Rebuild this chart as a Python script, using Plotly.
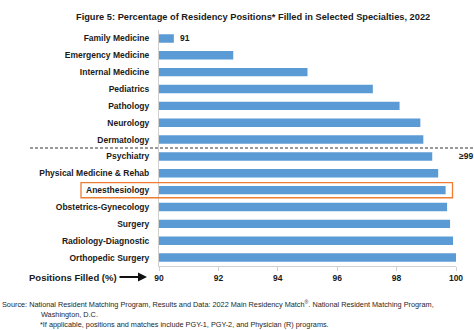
import plotly.graph_objects as go

specialties = [
    "Family Medicine", "Emergency Medicine", "Internal Medicine", "Pediatrics",
    "Pathology", "Neurology", "Dermatology", "Psychiatry",
    "Physical Medicine & Rehab", "Anesthesiology", "Obstetrics-Gynecology",
    "Surgery", "Radiology-Diagnostic", "Orthopedic Surgery",
]
pct_filled = [90.5, 92.5, 95.0, 97.2, 98.1, 98.8, 98.9, 99.2,
              99.4, 99.65, 99.7, 99.8, 99.9, 100.0]
family_label = "91"
x_ticks = [90, 92, 94, 96, 98, 100]

W, H = 474, 330
L, R, T, B = 159, 18, 30, 64
PW, PH = W - L - R, H - T - B


def px_x(px):
    return (px - L) / PW


def px_y(py):
    return (H - B - py) / PH


FONT = "Liberation Sans, Arial, sans-serif"
BLUE = "#5B9BD5"

fig = go.Figure(go.Bar(
    x=pct_filled, y=specialties, orientation="h",
    width=0.5,
    marker=dict(color=BLUE, line=dict(width=0)),
))

fig.update_layout(
    width=W, height=H,
    margin=dict(l=L, r=R, t=T, b=B),
    paper_bgcolor="white", plot_bgcolor="white",
    showlegend=False,
    font=dict(family=FONT, color="#1a1a1a"),
    xaxis=dict(
        range=[90, 100], tickvals=x_ticks, ticktext=[str(v) for v in x_ticks],
        showgrid=False, zeroline=False,
        showline=True, linecolor="#d0d0d0", linewidth=1,
        ticks="outside", ticklen=4, tickcolor="#d0d0d0",
        tickfont=dict(family=FONT, size=8.5, color="#1a1a1a", weight="bold"),
    ),
    yaxis=dict(
        categoryorder="array", categoryarray=specialties,
        autorange=False, range=[13.5, -0.5],
        showgrid=False, zeroline=False,
        showline=True, linecolor="#d0d0d0", linewidth=1,
        ticks="", ticklabelstandoff=7,
        tickfont=dict(family=FONT, size=8.5, color="#1a1a1a", weight="bold"),
    ),
)

# Data label for Family Medicine
fig.add_annotation(text=family_label, xref="x", yref="y",
                   x=pct_filled[0], y=specialties[0], xanchor="left",
                   yanchor="middle", xshift=4, showarrow=False,
                   font=dict(family=FONT, size=8.5, color="#1a1a1a", weight="bold"))

# Title
fig.add_annotation(
    text="Figure 5: Percentage of Residency Positions* Filled in Selected Specialties, 2022",
    xref="paper", yref="paper", x=px_x(253), y=px_y(17),
    xanchor="center", yanchor="middle", showarrow=False,
    font=dict(family=FONT, size=9.25, color="#1a1a1a", weight="bold"),
)

# Dashed separator between groups
fig.add_shape(type="line", xref="paper", yref="y",
              x0=px_x(30), x1=px_x(474), y0=6.5, y1=6.5,
              line=dict(color="#333333", width=1, dash="3px,2px"))

# ≥99 label
fig.add_annotation(text="≥99", xref="paper", yref="y", x=px_x(457), y=7,
                   xanchor="left", yanchor="middle", showarrow=False,
                   font=dict(family=FONT, size=8.5, color="#1a1a1a", weight="bold"))

# Orange box around Anesthesiology
fig.add_shape(type="rect", xref="paper", yref="y",
              x0=px_x(81), x1=px_x(452.5), y0=8.55, y1=9.45,
              line=dict(color="#ED7D31", width=1.3), fillcolor="rgba(0,0,0,0)")

# Axis label with arrow
fig.add_annotation(text="Positions Filled (%)", xref="paper", yref="paper",
                   x=px_x(27), y=px_y(277), xanchor="left", yanchor="middle",
                   showarrow=False,
                   font=dict(family=FONT, size=9.5, color="#1a1a1a", weight="bold"))
fig.add_annotation(text="", xref="paper", yref="paper",
                   x=px_x(147), y=px_y(277), ax=-29, ay=0,
                   showarrow=True, arrowhead=2, arrowsize=0.9, arrowwidth=2,
                   arrowcolor="#111111")

# Footnotes
FN = dict(family=FONT, size=7.3, color="#262626")
fig.add_annotation(
    text="Source: National Resident Matching Program, Results and Data: 2022 Main Residency Match<sup>®</sup>. National Resident Matching Program,",
    xref="paper", yref="paper", x=px_x(0), y=px_y(304),
    xanchor="left", yanchor="middle", showarrow=False, font=FN)
fig.add_annotation(text="Washington, D.C.", xref="paper", yref="paper",
                   x=px_x(39), y=px_y(314), xanchor="left", yanchor="middle",
                   showarrow=False, font=FN)
fig.add_annotation(
    text="*If applicable, positions and matches include PGY-1, PGY-2, and Physician (R) programs.",
    xref="paper", yref="paper", x=px_x(38), y=px_y(324),
    xanchor="left", yanchor="middle", showarrow=False, font=FN)

fig.write_html("out.html")
